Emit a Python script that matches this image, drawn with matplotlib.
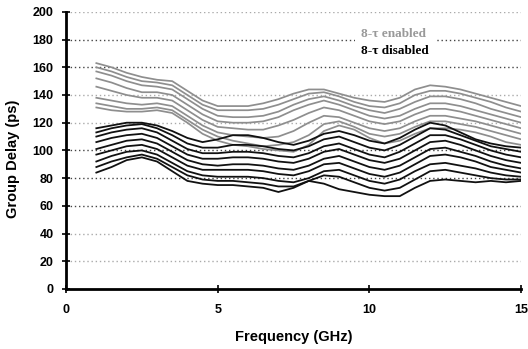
import numpy as np
import matplotlib
matplotlib.use("Agg")
import matplotlib.pyplot as plt
from matplotlib.lines import Line2D

# frequency grid (GHz)
freq = [1, 1.5, 2, 2.5, 3, 3.5, 4, 4.5, 5, 5.5, 6, 6.5, 7, 7.5, 8,
        8.5, 9, 9.5, 10, 10.5, 11, 11.5, 12, 12.5, 13, 13.5, 14, 14.5, 15]

# group delay (ps), 8-tau enabled
enabled = [
    [163, 160, 156, 153, 151, 150, 143, 136, 132, 132, 132, 134, 137, 141, 144,
     144, 141, 138, 136, 135, 138, 144, 147, 146, 144, 141, 138, 135, 132],
    [160, 157, 153, 150, 149, 147, 140, 133, 129, 129, 129, 130, 133, 137, 141,
     142, 139, 135, 132, 131, 134, 140, 143, 143, 141, 138, 135, 131, 128],
    [157, 154, 150, 147, 146, 144, 137, 130, 125, 124, 124, 125, 128, 133, 137,
     139, 136, 132, 129, 127, 130, 135, 139, 139, 137, 134, 130, 127, 124],
    [152, 149, 145, 142, 142, 140, 133, 126, 121, 120, 120, 121, 124, 129, 133,
     136, 133, 129, 125, 123, 125, 130, 134, 134, 132, 129, 126, 123, 120],
    [146, 143, 140, 138, 138, 136, 129, 122, 117, 116, 115, 115, 118, 122, 127,
     131, 129, 125, 121, 119, 121, 126, 130, 130, 128, 125, 122, 119, 116],
    [138, 136, 134, 133, 134, 132, 125, 118, 113, 111, 110, 109, 110, 114, 120,
     125, 124, 120, 116, 114, 116, 121, 125, 125, 123, 121, 118, 115, 112],
    [134, 132, 130, 130, 131, 129, 122, 115, 110, 107, 105, 103, 104, 106, 111,
     119, 121, 117, 112, 110, 112, 117, 121, 121, 119, 117, 114, 111, 108],
    [131, 129, 128, 128, 129, 127, 120, 112, 107, 104, 103, 101, 100, 99, 104,
     114, 118, 115, 109, 105, 107, 112, 116, 116, 115, 113, 110, 106, 104],
]

# group delay (ps), 8-tau disabled
disabled = [
    [116, 118, 120, 120, 118, 114, 109, 106, 108, 111, 111, 109, 106, 104, 107,
     112, 114, 111, 107, 105, 109, 115, 120, 118, 113, 108, 105, 103, 102],
    [113, 116, 118, 119, 116, 111, 105, 102, 102, 104, 104, 103, 101, 100, 103,
     108, 110, 106, 102, 100, 104, 110, 116, 115, 111, 107, 103, 101, 99],
    [110, 113, 115, 116, 113, 107, 101, 98, 98, 99, 99, 98, 96, 95, 98,
     103, 105, 101, 97, 95, 99, 105, 111, 111, 108, 104, 100, 97, 95],
    [106, 109, 111, 112, 109, 103, 97, 94, 94, 95, 95, 94, 92, 91, 94,
     99, 101, 97, 93, 91, 94, 100, 106, 107, 104, 100, 96, 93, 91],
    [101, 104, 107, 108, 105, 99, 93, 90, 89, 90, 90, 89, 87, 86, 89,
     94, 96, 92, 88, 86, 89, 95, 101, 102, 99, 96, 92, 89, 87],
    [97, 100, 103, 104, 101, 95, 89, 86, 86, 86, 86, 85, 83, 82, 85,
     90, 91, 87, 83, 81, 84, 90, 96, 97, 95, 92, 88, 86, 84],
    [92, 96, 99, 100, 97, 91, 85, 82, 81, 81, 81, 80, 78, 77, 80,
     85, 86, 82, 78, 76, 79, 85, 90, 91, 89, 87, 84, 82, 81],
    [88, 92, 95, 97, 94, 88, 82, 79, 78, 78, 77, 76, 74, 74, 78,
     82, 81, 77, 73, 71, 73, 79, 85, 86, 84, 82, 80, 79, 79],
    [84, 88, 93, 95, 92, 85, 78, 76, 75, 75, 74, 73, 70, 73, 78,
     76, 72, 70, 68, 67, 67, 73, 78, 79, 78, 77, 78, 77, 78],
]

y_ticks = [0, 20, 40, 60, 80, 100, 120, 140, 160, 180, 200]
x_ticks = [0, 5, 10, 15]
grid_dark = [60, 80, 100, 160, 180]

fig = plt.figure(figsize=(5.28, 3.49), dpi=100)
ax = fig.add_axes([0.125, 0.172, 0.862, 0.794])

for y in y_ticks[1:]:
    c = '#444444' if y in grid_dark else '#aaaaaa'
    ax.axhline(y, color=c, lw=1.0, linestyle=(0, (1, 2)), zorder=1)

for row in enabled:
    ax.plot(freq, row, color='#8e8e8e', lw=1.25, zorder=2)
for row in disabled:
    ax.plot(freq, row, color='#111111', lw=1.3, zorder=3)

ax.set_xlim(0, 15)
ax.set_ylim(0, 200)
ax.set_xticks(x_ticks)
ax.set_yticks(y_ticks)

for s in ['top', 'right']:
    ax.spines[s].set_visible(False)
for s in ['left', 'bottom']:
    ax.spines[s].set_linewidth(2)

ax.tick_params(direction='inout', length=6, width=1.2, labelsize=9)
ax.tick_params(axis='y', pad=6)
ax.tick_params(axis='x', pad=8)
for lab in ax.get_xticklabels() + ax.get_yticklabels():
    lab.set_fontweight('bold')
    lab.set_fontfamily('Liberation Sans')

ax.set_xlabel('Frequency (GHz)', fontsize=10.5, fontweight='bold',
              family='Liberation Sans')
ax.set_ylabel('Group Delay (ps)', fontsize=10.5, fontweight='bold',
              family='Liberation Sans')
ax.xaxis.set_label_coords(0.5, -0.148)
ax.yaxis.set_label_coords(-0.101, 0.47)

handles = [Line2D([], [], linestyle='none'), Line2D([], [], linestyle='none')]
leg = ax.legend(handles, ['8-τ enabled', '8-τ disabled'],
                loc='center', bbox_to_anchor=(0.723, 0.89),
                handlelength=0, handletextpad=0, labelspacing=0.4,
                labelcolor=['#999999', 'black'], frameon=True,
                facecolor='white', edgecolor='none', framealpha=1,
                borderpad=0.5, prop={'family': 'Liberation Serif',
                                     'weight': 'bold', 'size': 9.5})
leg.get_frame().set_boxstyle('square', pad=0)

fig.savefig('out.png', dpi=100)
